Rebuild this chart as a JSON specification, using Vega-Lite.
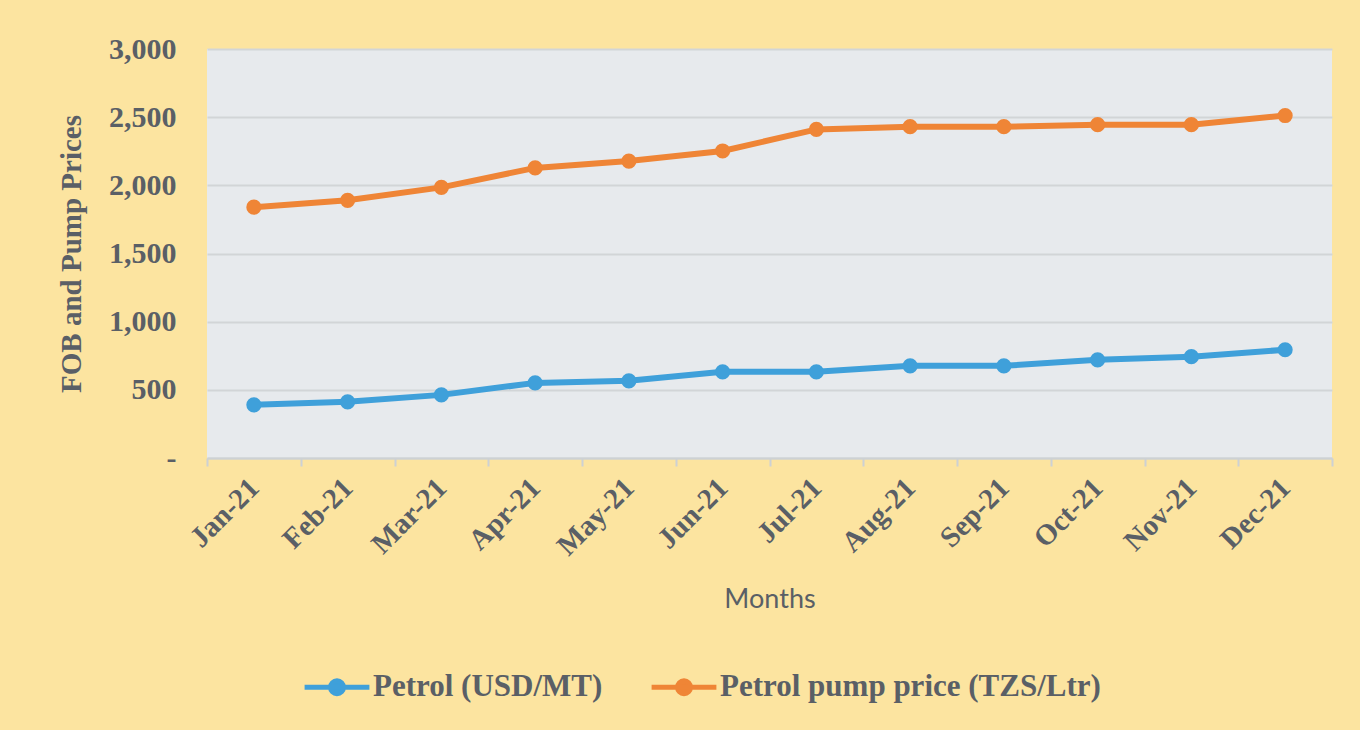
{
  "$schema": "https://vega.github.io/schema/vega-lite/v6.json",
  "autosize": "none",
  "width": 1125,
  "height": 409,
  "padding": {"left": 207, "top": 49, "right": 28, "bottom": 272},
  "background": "#FCE4A0",
  "config": {
    "view": {"fill": "#E7EAED", "stroke": null},
    "font": "Liberation Serif"
  },
  "data": {
    "values": [
      {"month": "Jan-21", "series": "Petrol (USD/MT)", "value": 390},
      {"month": "Feb-21", "series": "Petrol (USD/MT)", "value": 412},
      {"month": "Mar-21", "series": "Petrol (USD/MT)", "value": 463},
      {"month": "Apr-21", "series": "Petrol (USD/MT)", "value": 551},
      {"month": "May-21", "series": "Petrol (USD/MT)", "value": 566},
      {"month": "Jun-21", "series": "Petrol (USD/MT)", "value": 632},
      {"month": "Jul-21", "series": "Petrol (USD/MT)", "value": 632},
      {"month": "Aug-21", "series": "Petrol (USD/MT)", "value": 676},
      {"month": "Sep-21", "series": "Petrol (USD/MT)", "value": 676},
      {"month": "Oct-21", "series": "Petrol (USD/MT)", "value": 720},
      {"month": "Nov-21", "series": "Petrol (USD/MT)", "value": 743},
      {"month": "Dec-21", "series": "Petrol (USD/MT)", "value": 794},
      {"month": "Jan-21", "series": "Petrol pump price (TZS/Ltr)", "value": 1840},
      {"month": "Feb-21", "series": "Petrol pump price (TZS/Ltr)", "value": 1890},
      {"month": "Mar-21", "series": "Petrol pump price (TZS/Ltr)", "value": 1985},
      {"month": "Apr-21", "series": "Petrol pump price (TZS/Ltr)", "value": 2128},
      {"month": "May-21", "series": "Petrol pump price (TZS/Ltr)", "value": 2178},
      {"month": "Jun-21", "series": "Petrol pump price (TZS/Ltr)", "value": 2252},
      {"month": "Jul-21", "series": "Petrol pump price (TZS/Ltr)", "value": 2410},
      {"month": "Aug-21", "series": "Petrol pump price (TZS/Ltr)", "value": 2430},
      {"month": "Sep-21", "series": "Petrol pump price (TZS/Ltr)", "value": 2430},
      {"month": "Oct-21", "series": "Petrol pump price (TZS/Ltr)", "value": 2445},
      {"month": "Nov-21", "series": "Petrol pump price (TZS/Ltr)", "value": 2445},
      {"month": "Dec-21", "series": "Petrol pump price (TZS/Ltr)", "value": 2512}
    ]
  },
  "encoding": {
    "x": {
      "field": "month",
      "type": "nominal",
      "sort": null,
      "scale": {"type": "band", "paddingInner": 0, "paddingOuter": 0},
      "axis": {
        "title": "Months",
        "titleFont": "Lato",
        "titleFontWeight": "normal",
        "titleFontSize": 27,
        "titleColor": "#5A5F66",
        "titlePadding": 26,
        "labelAngle": -45,
        "labelAlign": "right",
        "labelBaseline": "middle",
        "labelFont": "Liberation Serif",
        "labelFontWeight": "bold",
        "labelFontSize": 29,
        "labelColor": "#5A5F66",
        "labelPadding": 17,
        "tickBand": "extent",
        "tickSize": 8,
        "tickColor": "#CDD1D4",
        "tickWidth": 2,
        "domainColor": "#CDD1D4",
        "domainWidth": 2,
        "grid": false
      }
    },
    "y": {
      "field": "value",
      "type": "quantitative",
      "scale": {"domain": [0, 3000], "nice": false},
      "axis": {
        "title": "FOB and Pump Prices",
        "titleFont": "Liberation Serif",
        "titleFontWeight": "bold",
        "titleFontSize": 29,
        "titleColor": "#5A5F66",
        "titlePadding": 22,
        "values": [0, 500, 1000, 1500, 2000, 2500, 3000],
        "labelExpr": "datum.value == 0 ? '-' : datum.label",
        "labelFont": "Liberation Serif",
        "labelFontWeight": "bold",
        "labelFontSize": 30,
        "labelColor": "#5A5F66",
        "labelPadding": 31,
        "ticks": false,
        "domain": false,
        "grid": true,
        "gridColor": "#D2D5D7",
        "gridWidth": 2
      }
    },
    "color": {
      "field": "series",
      "type": "nominal",
      "scale": {
        "domain": ["Petrol (USD/MT)", "Petrol pump price (TZS/Ltr)"],
        "range": ["#3FA0DA", "#EF8536"]
      },
      "legend": {
        "title": null,
        "orient": "none",
        "direction": "horizontal",
        "legendX": 95,
        "legendY": 603,
        "labelFont": "Liberation Serif",
        "labelFontWeight": "bold",
        "labelFontSize": 31,
        "labelColor": "#5A5F66",
        "labelLimit": 700,
        "columnPadding": 38,
        "symbolType": "M-1,0H1M0.2,0A0.2,0.2,0,1,1,-0.2,0A0.2,0.2,0,1,1,0.2,0Z",
        "symbolSize": 4200,
        "symbolStrokeWidth": 5,
        "labelOffset": 1,
        "encode": {
          "symbols": {"update": {"fill": {"scale": "color", "field": "value"}, "opacity": {"value": 1}}}
        }
      }
    }
  },
  "layer": [
    {"mark": {"type": "line", "strokeWidth": 6}},
    {"mark": {"type": "point", "filled": true, "size": 230, "opacity": 1}}
  ]
}
